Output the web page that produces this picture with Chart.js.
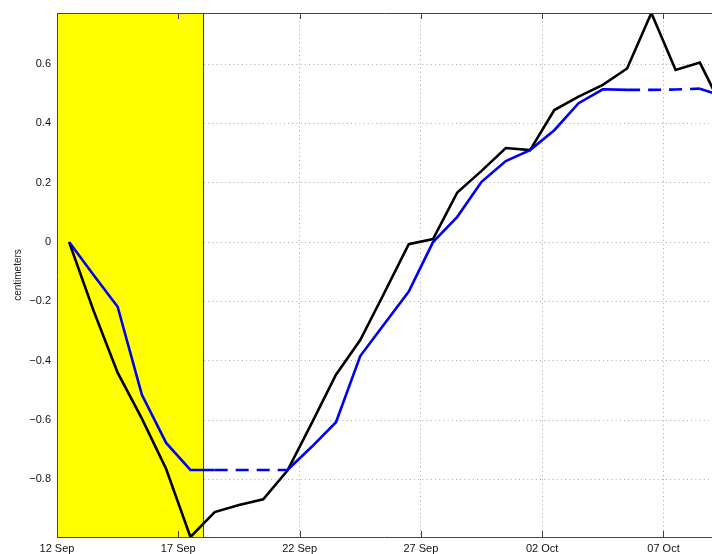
<!DOCTYPE html>
<html>
<head>
<meta charset="utf-8">
<script src="https://cdn.jsdelivr.net/npm/chart.js@4"></script>
<style>
  html, body { margin: 0; padding: 0; background: #fff; }
  canvas { display: block; }
</style>
</head>
<body>
<canvas id="sl" width="712" height="554"></canvas>
<script>
// days since 12 Sep (samples at mid-day)
const DAYS = [0.5, 1.5, 2.5, 3.5, 4.5, 5.5, 6.5, 7.5, 8.5, 9.5, 10.5, 11.5, 12.5, 13.5,
    14.5, 15.5, 16.5, 17.5, 18.5, 19.5, 20.5, 21.5, 22.5, 23.5, 24.5, 25.5, 26.5, 27.5];
const OBSERVED = [0, -0.23, -0.44, -0.595, -0.765, -0.994, -0.91, -0.886, -0.867, -0.77,
    -0.61, -0.447, -0.33, -0.17, -0.007, 0.01, 0.167, 0.24, 0.317, 0.31,
    0.445, 0.49, 0.53, 0.585, 0.772, 0.58, 0.605, 0.44];
const MODEL = [0, -0.11, -0.218, -0.515, -0.677, -0.768, -0.768, -0.768, -0.768, -0.768,
    -0.69, -0.607, -0.384, -0.275, -0.167, 0.0, 0.085, 0.203, 0.273, 0.31,
    0.377, 0.468, 0.515, 0.513, 0.513, 0.514, 0.517, 0.49];
// segments of the model curve that are drawn dashed (index of first point)
const MODEL_DASHED = [6, 7, 8, 23, 24, 25];

const X_TICK_DAYS = [0, 5, 10, 15, 20, 25];
const X_TICK_LABELS = ['12 Sep', '17 Sep', '22 Sep', '27 Sep', '02 Oct', '07 Oct'];
const Y_TICKS = [-0.8, -0.6, -0.4, -0.2, 0, 0.2, 0.4, 0.6];
const X_MIN = 0, X_MAX = 27;
const Y_MIN = -0.994, Y_MAX = 0.772;
const SHADE_END = 6; // yellow band 12 Sep -> 18 Sep

const FONT = "'Liberation Sans', Arial, Helvetica, sans-serif";

const frame = {
    id: 'frame',
    beforeDatasetsDraw(chart) {
        const { ctx, chartArea: a, scales: { x } } = chart;
        const x1 = Math.round(x.getPixelForValue(SHADE_END));
        ctx.save();
        ctx.fillStyle = '#ffff00';
        ctx.fillRect(a.left, a.top, x1 - a.left, a.bottom - a.top);
        ctx.strokeStyle = '#3c3c10';
        ctx.lineWidth = 1;
        ctx.beginPath(); ctx.moveTo(x1 + 0.5, a.top); ctx.lineTo(x1 + 0.5, a.bottom); ctx.stroke();
        ctx.restore();
    },
    afterDatasetsDraw(chart) {
        const { ctx, chartArea: a, scales: { x } } = chart;
        ctx.save();
        ctx.strokeStyle = '#444';
        ctx.lineWidth = 1;
        ctx.beginPath();
        ctx.moveTo(a.left + 0.5, a.bottom + 0.5); ctx.lineTo(a.left + 0.5, a.top + 0.5); ctx.lineTo(a.right, a.top + 0.5);
        ctx.moveTo(a.left, a.bottom + 0.5); ctx.lineTo(a.right, a.bottom + 0.5);
        X_TICK_DAYS.forEach((d) => {
            const px = Math.round(x.getPixelForValue(d)) + 0.5;
            ctx.moveTo(px, a.bottom); ctx.lineTo(px, a.bottom - 6);
            ctx.moveTo(px, a.top); ctx.lineTo(px, a.top + 6);
        });
        ctx.stroke();
        ctx.restore();
    },
};

new Chart(document.getElementById('sl'), {
    type: 'line',
    data: {
        datasets: [
            {
                label: 'model', data: DAYS.map((d, i) => ({ x: d, y: MODEL[i] })),
                borderColor: '#0000f0', borderWidth: 2.6, pointRadius: 0, tension: 0,
                segment: { borderDash: (c) => MODEL_DASHED.includes(c.p0DataIndex) ? [13, 8] : undefined },
            },
            {
                label: 'observed', data: DAYS.map((d, i) => ({ x: d, y: OBSERVED[i] })),
                borderColor: '#000', borderWidth: 2.6, pointRadius: 0, tension: 0,
            },
        ],
    },
    options: {
        responsive: false, animation: false,
        layout: { padding: { top: 13, right: 0, left: 0, bottom: 0 } },
        plugins: { legend: { display: false }, tooltip: { enabled: false } },
        scales: {
            x: {
                type: 'linear', min: X_MIN, max: X_MAX,
                afterBuildTicks: (s) => { s.ticks = X_TICK_DAYS.map((v) => ({ value: v })); },
                afterFit: (s) => { s.height = 17; },
                grid: { color: '#a8a8a8', lineWidth: 1, drawTicks: false },
                border: { display: false, dash: [1, 3.2] },
                ticks: {
                    autoSkip: false, maxRotation: 0, padding: 5, color: '#111',
                    font: { family: FONT, size: 11 },
                    callback: (v) => X_TICK_LABELS[X_TICK_DAYS.indexOf(v)],
                },
            },
            y: {
                min: Y_MIN, max: Y_MAX,
                afterBuildTicks: (s) => { s.ticks = Y_TICKS.map((v) => ({ value: v })); },
                afterFit: (s) => { s.width = 57; },
                grid: { color: '#a8a8a8', lineWidth: 1, drawTicks: false },
                border: { display: false, dash: [1, 3.2] },
                title: { display: true, text: 'centimeters', color: '#222', font: { family: FONT, size: 10 }, padding: { top: 12, bottom: 0 } },
                ticks: {
                    padding: 6, color: '#111', font: { family: FONT, size: 11 },
                    callback: (v) => v < 0 ? '\u2212' + Math.abs(v) : String(v),
                },
            },
        },
    },
    plugins: [frame],
});
</script>
</body>
</html>
